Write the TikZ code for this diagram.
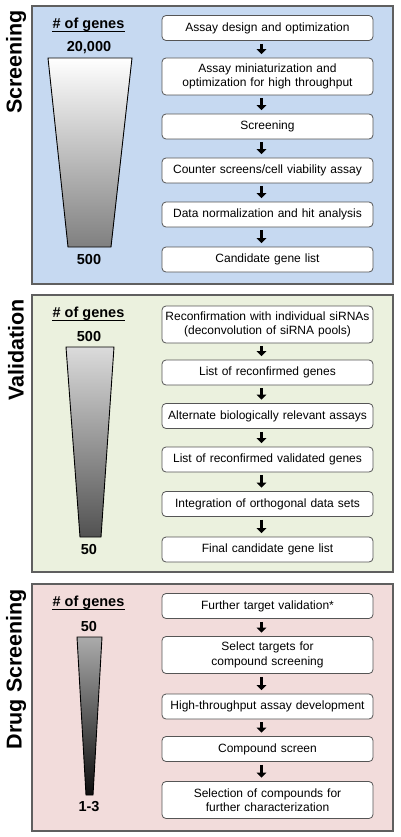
\documentclass[tikz,border=0pt]{standalone}
\usepackage{fontspec}
\setmainfont{Liberation Sans}
\usetikzlibrary{arrows.meta}
\definecolor{pblue}{HTML}{C6D9F1}
\definecolor{pgreen}{HTML}{EBF1DE}
\definecolor{ppink}{HTML}{F2DCDB}
\definecolor{panelgray}{HTML}{5F5F5F}
\definecolor{boxgray}{HTML}{555555}
\begin{document}
\begin{tikzpicture}[x=1pt,y=-1pt,
  panel/.style={draw=panelgray, line width=1.3pt},
  stepbox/.style={draw=boxgray, line width=0.8pt, fill=white, rounded corners=4pt,
    minimum width=211pt, minimum height=25pt, text width=205pt, align=center,
    font=\fontsize{12}{14.5}\selectfont, inner sep=0pt},
  tallbox/.style={stepbox, minimum height=37pt},
  flow/.style={line width=3.6pt, -{Triangle[width=9.5pt,length=5pt]}, shorten <=3pt, shorten >=3.5pt},
  sidelabel/.style={rotate=90, font=\fontsize{21.5}{24}\selectfont\bfseries},
  countlbl/.style={font=\fontsize{14.5}{16}\selectfont\bfseries, inner sep=0pt},
  uline/.style={line width=1.2pt},
  funnel/.style={draw=black, line width=0.9pt}
]
\useasboundingbox (0,0) rectangle (400,837);

% ---------- Panel 1: Screening ----------
\draw[panel, fill=pblue] (32,6) rectangle (393,284);
\node[sidelabel] (lab1) at (16,62) {Screening};
\node[countlbl] (g1) at (88.5,25) {\# of genes};
\draw[uline] ([yshift=-2.6pt]g1.base west) -- ([yshift=-2.6pt]g1.base east);
\node[countlbl] (t1) at (89,48) {20,000};
\shade[funnel, top color=white, bottom color=black!50] (48,58) -- (132,58) -- (111,247) -- (68,247) -- cycle;
\node[countlbl] (b1) at (89,260) {500};

\node[stepbox] (s1) at (267.5,28) {Assay design and optimization};
\node[tallbox] (s2) at (267.5,76.5) {Assay miniaturization and\\optimization for high throughput};
\node[stepbox] (s3) at (267.5,126.5) {Screening};
\node[stepbox] (s4) at (267.5,170.5) {Counter screens/cell viability assay};
\node[stepbox] (s5) at (267.5,214.5) {Data normalization and hit analysis};
\node[stepbox] (s6) at (267.5,259.5) {Candidate gene list};
\foreach \a/\b in {s1/s2,s2/s3,s3/s4,s4/s5,s5/s6}
  \draw[flow] ([xshift=-6pt]\a.south) -- ([xshift=-6pt]\b.north);

% ---------- Panel 2: Validation ----------
\draw[panel, fill=pgreen] (32,295) rectangle (393,572);
\node[sidelabel] (lab2) at (16,350) {Validation};
\node[countlbl] (g2) at (88.5,314) {\# of genes};
\draw[uline] ([yshift=-2.6pt]g2.base west) -- ([yshift=-2.6pt]g2.base east);
\node[countlbl] (t2) at (89,337) {500};
\shade[funnel, top color=black!14, bottom color=black!68] (66,347) -- (114,347) -- (101,537) -- (80,537) -- cycle;
\node[countlbl] (b2) at (89,550) {50};

\node[tallbox] (v1) at (267.5,324.5) {Reconfirmation with individual siRNAs\\(deconvolution of siRNA pools)};
\node[stepbox] (v2) at (267.5,372.5) {List of reconfirmed genes};
\node[stepbox] (v3) at (267.5,416) {Alternate biologically relevant assays};
\node[stepbox] (v4) at (267.5,459.5) {List of reconfirmed validated genes};
\node[stepbox] (v5) at (267.5,504) {Integration of orthogonal data sets};
\node[stepbox] (v6) at (267.5,549.5) {Final candidate gene list};
\foreach \a/\b in {v1/v2,v2/v3,v3/v4,v4/v5,v5/v6}
  \draw[flow] ([xshift=-6pt]\a.south) -- ([xshift=-6pt]\b.north);

% ---------- Panel 3: Drug Screening ----------
\draw[panel, fill=ppink] (32,584) rectangle (393,831);
\node[sidelabel] (lab3) at (16,669) {Drug Screening};
\node[countlbl] (g3) at (88.5,603) {\# of genes};
\draw[uline] ([yshift=-2.6pt]g3.base west) -- ([yshift=-2.6pt]g3.base east);
\node[countlbl] (t3) at (89,627) {50};
\shade[funnel, top color=black!33, bottom color=black!95] (77,637) -- (102,637) -- (93,795) -- (86,795) -- cycle;
\node[countlbl] (b3) at (89,807) {1-3};

\node[stepbox] (d1) at (267.5,606) {Further target validation*};
\node[tallbox] (d2) at (267.5,655) {Select targets for\\compound screening};
\node[stepbox] (d3) at (267.5,706.5) {High-throughput assay development};
\node[stepbox] (d4) at (267.5,749) {Compound screen};
\node[tallbox] (d5) at (267.5,800) {Selection of compounds for\\further characterization};
\foreach \a/\b in {d1/d2,d2/d3,d3/d4,d4/d5}
  \draw[flow] ([xshift=-6pt]\a.south) -- ([xshift=-6pt]\b.north);
\end{tikzpicture}
\end{document}
